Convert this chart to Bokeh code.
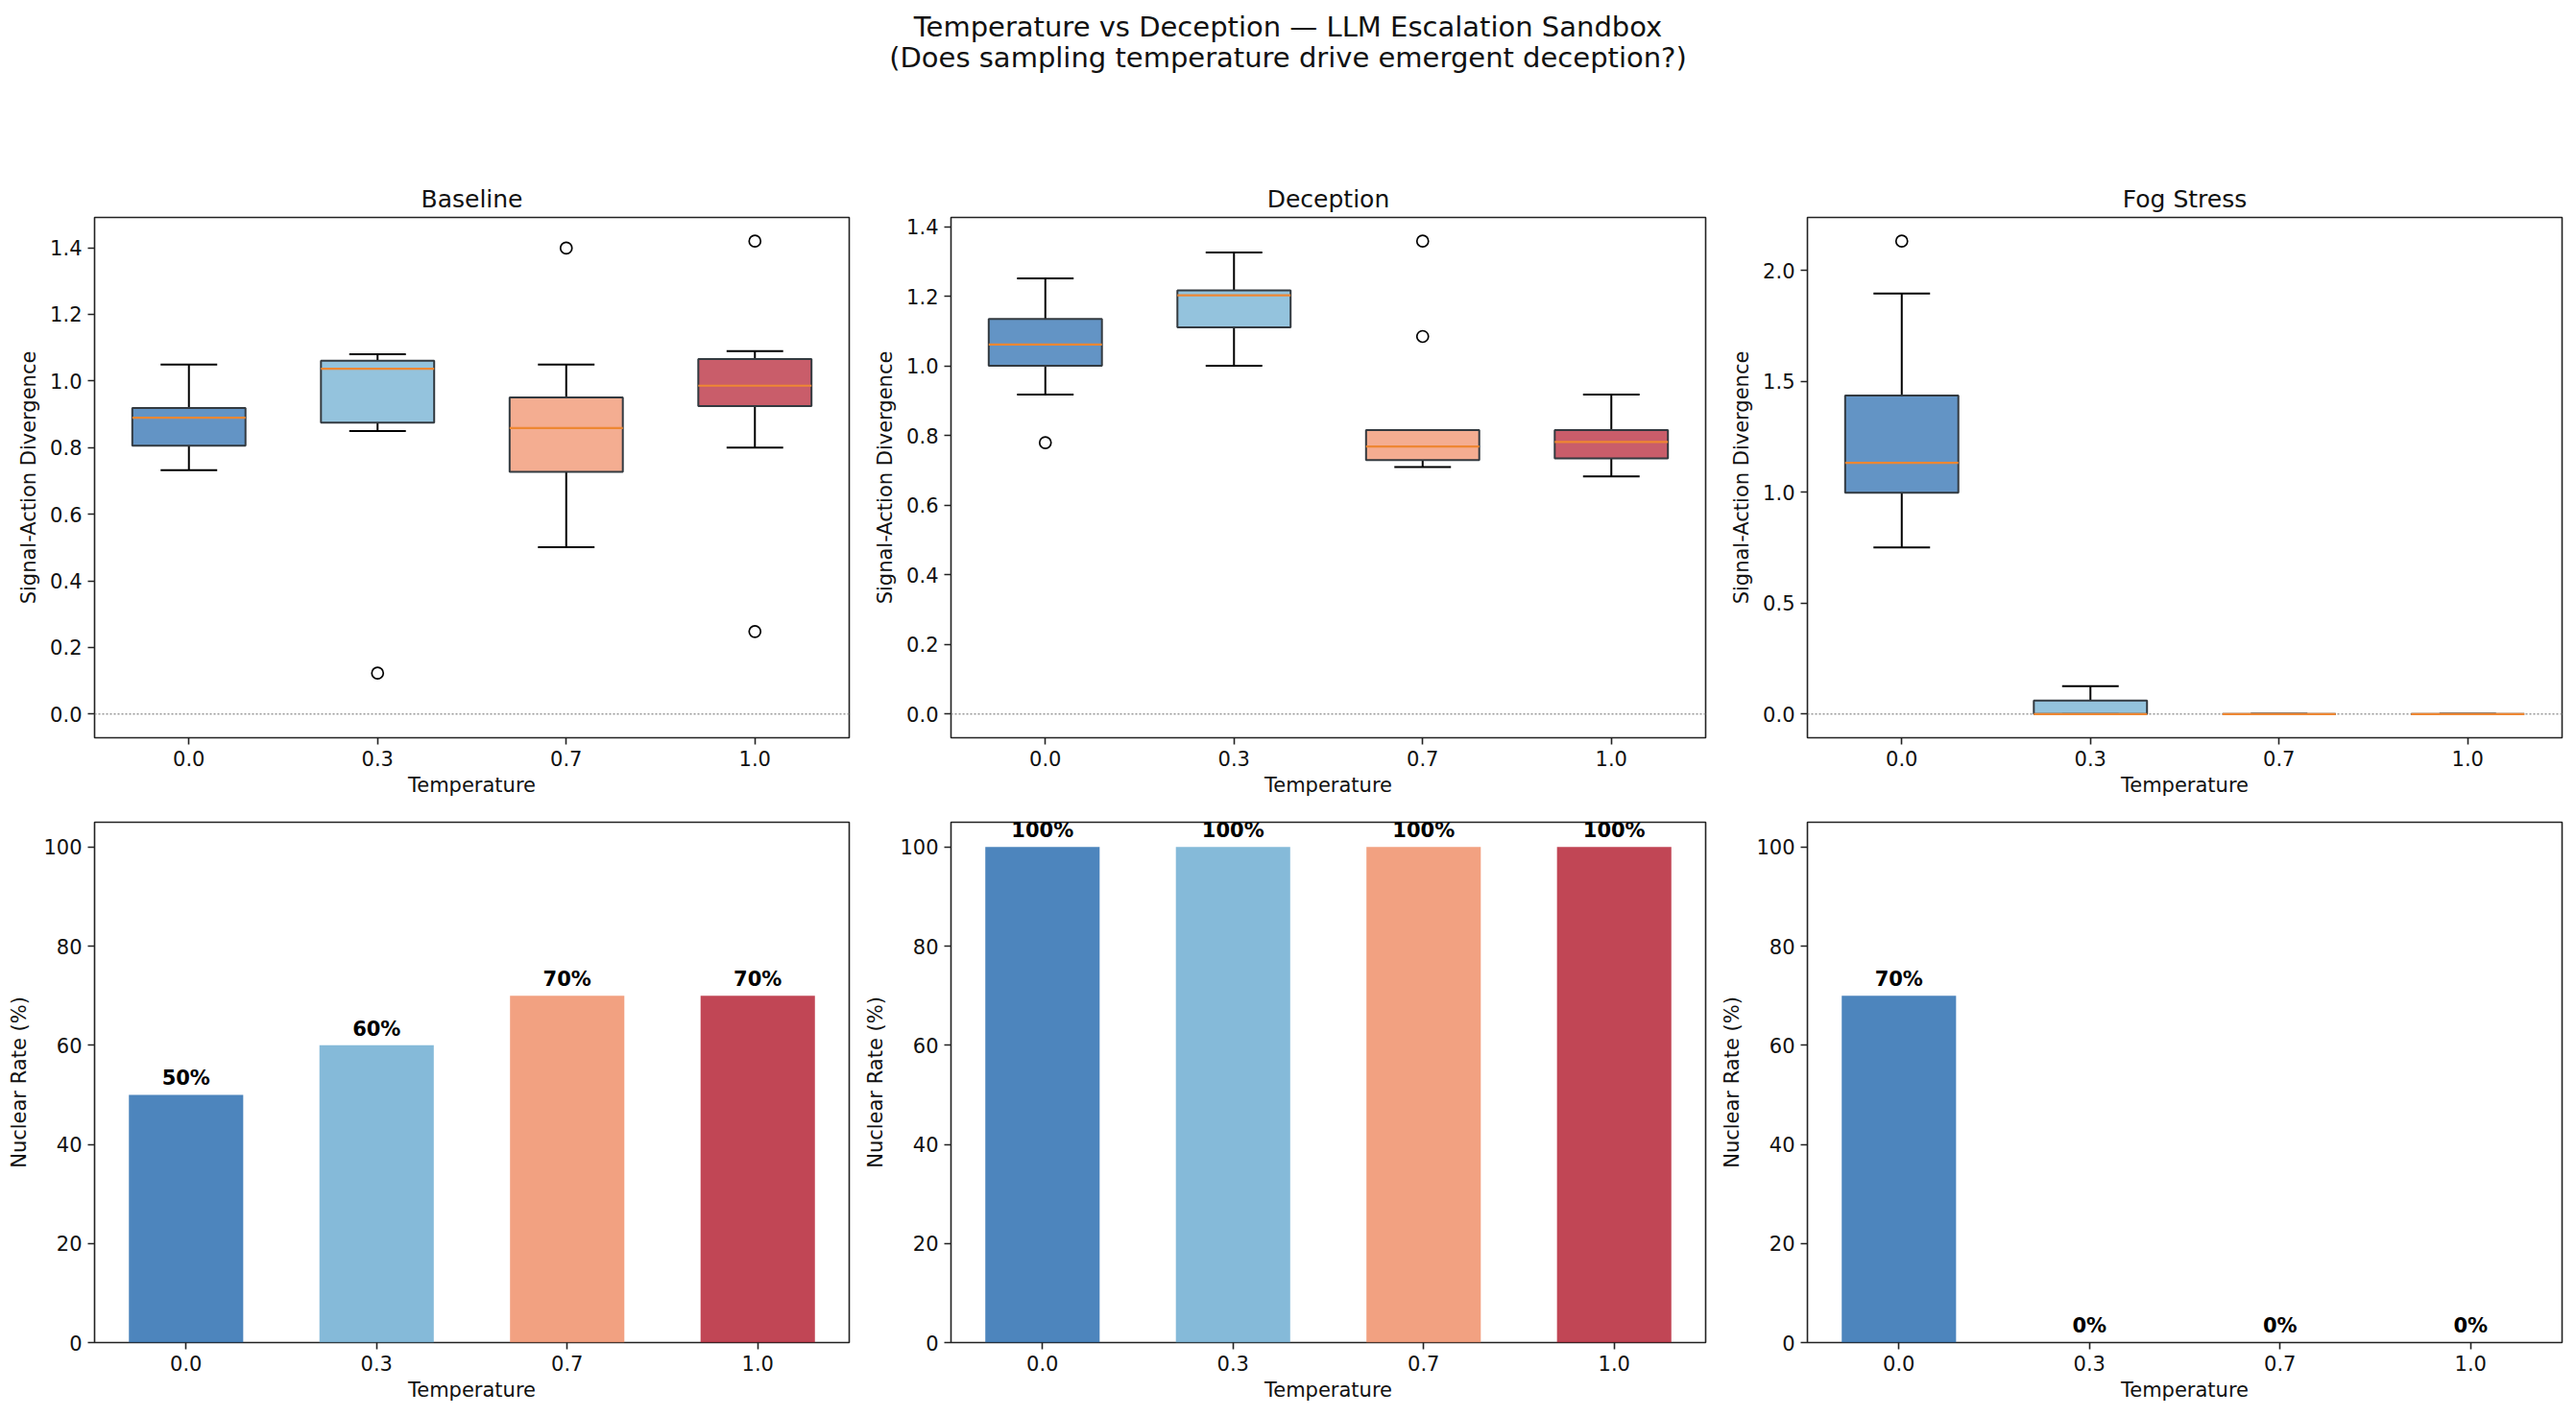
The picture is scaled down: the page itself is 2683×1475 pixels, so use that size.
from bokeh.plotting import figure
from bokeh.models import Span, FixedTicker, PrintfTickFormatter, ColumnDataSource, Range1d
from bokeh.layouts import column, row
from bokeh.embed import file_html
from bokeh.resources import INLINE
from bokeh.core.properties import value

# ---------------- data ----------------
temps = ["0.0", "0.3", "0.7", "1.0"]
colors = ["#2166ac", "#67a9cf", "#ef8a62", "#b2182b"]
scenarios = ["Baseline", "Deception", "Fog Stress"]

# box-plot summaries: q1, median, q3, whisker low, whisker high, outliers
baseline_q1 = [0.806, 0.875, 0.727, 0.925]
baseline_med = [0.890, 1.037, 0.859, 0.986]
baseline_q3 = [0.919, 1.061, 0.951, 1.066]
baseline_lo = [0.732, 0.850, 0.501, 0.800]
baseline_hi = [1.049, 1.080, 1.049, 1.090]
baseline_out = [[], [0.123], [1.399], [1.420, 0.248]]

deception_q1 = [1.001, 1.111, 0.730, 0.735]
deception_med = [1.062, 1.203, 0.769, 0.782]
deception_q3 = [1.135, 1.217, 0.816, 0.816]
deception_lo = [0.918, 1.001, 0.710, 0.683]
deception_hi = [1.252, 1.326, 0.816, 0.918]
deception_out = [[0.780], [], [1.359, 1.085], []]

fog_q1 = [0.998, 0.0, 0.0, 0.0]
fog_med = [1.133, 0.0, 0.0, 0.0]
fog_q3 = [1.437, 0.061, 0.0, 0.0]
fog_lo = [0.752, 0.0, 0.0, 0.0]
fog_hi = [1.897, 0.126, 0.0, 0.0]
fog_out = [[2.133], [], [], []]

# nuclear rates (%)
nuclear_baseline = [50, 60, 70, 70]
nuclear_deception = [100, 100, 100, 100]
nuclear_fog = [70, 0, 0, 0]

div_ticks_baseline = [0.0, 0.2, 0.4, 0.6, 0.8, 1.0, 1.2, 1.4]
div_ticks_deception = [0.0, 0.2, 0.4, 0.6, 0.8, 1.0, 1.2, 1.4]
div_ticks_fog = [0.0, 0.5, 1.0, 1.5, 2.0]
rate_ticks = [0, 20, 40, 60, 80, 100]

suptitle_1 = "Temperature vs Deception \u2014 LLM Escalation Sandbox"
suptitle_2 = "(Does sampling temperature drive emergent deception?)"

# ---------------- style ----------------
FONT = "DejaVu Sans"
MEDIAN = "#ee8733"
FRAME_W = 786
FRAME_H = 542
COLS = [dict(l=98, r=10), dict(l=96, r=10), dict(l=96, r=4)]
TOP_B = 146


def style(p, ylabel, label_standoff):
    p.xgrid.visible = False
    p.ygrid.visible = False
    p.outline_line_color = "#222222"
    p.outline_line_width = 1.6
    for ax in (p.xaxis[0], p.yaxis[0]):
        ax.axis_line_color = None
        ax.major_tick_in = 0
        ax.major_tick_out = 7
        ax.major_tick_line_color = "#222222"
        ax.major_tick_line_width = 1.6
        ax.minor_tick_line_color = None
        ax.major_label_text_font = FONT
        ax.major_label_text_font_size = "21px"
        ax.major_label_text_color = "#111111"
        ax.axis_label_text_font = FONT
        ax.axis_label_text_font_size = "21px"
        ax.axis_label_text_font_style = "normal"
        ax.axis_label_text_color = "#111111"
    p.xaxis.axis_label = "Temperature"
    p.xaxis.major_label_standoff = 6
    p.xaxis.axis_label_standoff = 5
    p.yaxis.axis_label = ylabel
    p.yaxis.major_label_standoff = 6
    p.yaxis.axis_label_standoff = label_standoff
    p.title.text_font = FONT
    p.title.text_font_size = "25px"
    p.title.text_font_style = "normal"
    p.title.align = "center"
    p.title.text_color = "#111111"
    p.title.standoff = 9


def box_panel(name, q1, med, q3, lo, hi, outs, yticks, col):
    pos = [i + 1 for i in range(len(temps))]
    allv = q1 + med + q3 + lo + hi + [v for o in outs for v in o] + [0.0]
    vmin, vmax = min(allv), max(allv)
    span = vmax - vmin
    p = figure(width=COLS[col]["l"] + FRAME_W + COLS[col]["r"], height=TOP_B + FRAME_H + 78,
               x_range=Range1d(0.5, 4.5), y_range=Range1d(vmin - 0.05 * span, vmax + 0.05 * span),
               title=name, toolbar_location=None, output_backend="svg",
               min_border_left=COLS[col]["l"], min_border_right=COLS[col]["r"],
               min_border_top=TOP_B, min_border_bottom=78)
    style(p, "Signal-Action Divergence", 7)
    p.add_layout(Span(location=0, dimension="width", line_color="#999999",
                      line_dash="2 2", line_width=1.5, level="underlay"))
    src = ColumnDataSource(dict(
        x=pos, q1=q1, med=med, q3=q3, lo=lo, hi=hi, color=colors,
        left=[x - 0.3 for x in pos], right=[x + 0.3 for x in pos],
        capl=[x - 0.15 for x in pos], capr=[x + 0.15 for x in pos]))
    p.segment(x0="x", y0="q3", x1="x", y1="hi", source=src, line_color="black", line_width=2)
    p.segment(x0="x", y0="q1", x1="x", y1="lo", source=src, line_color="black", line_width=2)
    p.segment(x0="capl", y0="hi", x1="capr", y1="hi", source=src, line_color="black", line_width=2)
    p.segment(x0="capl", y0="lo", x1="capr", y1="lo", source=src, line_color="black", line_width=2)
    p.quad(left="left", right="right", bottom="q1", top="q3", source=src,
           fill_color="color", fill_alpha=0.7, line_color="#333a40", line_width=2)
    p.segment(x0="left", y0="med", x1="right", y1="med", source=src, line_color=MEDIAN, line_width=2.2)
    ox = [pos[i] for i, o in enumerate(outs) for _ in o]
    oy = [v for o in outs for v in o]
    p.scatter(x=ox, y=oy, marker="circle", size=12, fill_color=None, line_color="black", line_width=1.7)
    p.xaxis.ticker = FixedTicker(ticks=pos)
    p.xaxis.major_label_overrides = {pos[i]: temps[i] for i in range(len(temps))}
    p.yaxis.ticker = FixedTicker(ticks=yticks)
    p.yaxis.formatter = PrintfTickFormatter(format="%.1f")
    return p


def bar_panel(vals, col):
    pos = list(range(len(temps)))
    p = figure(width=COLS[col]["l"] + FRAME_W + COLS[col]["r"], height=10 + FRAME_H + 68,
               x_range=Range1d(-0.48, 3.48), y_range=Range1d(0, 105),
               toolbar_location=None, output_backend="svg",
               min_border_left=COLS[col]["l"], min_border_right=COLS[col]["r"],
               min_border_top=10, min_border_bottom=68)
    style(p, "Nuclear Rate (%)", 10)
    src = ColumnDataSource(dict(x=pos, top=vals, color=colors,
                                ty=[v + 1 for v in vals], label=[f"{v}%" for v in vals]))
    p.vbar(x="x", top="top", width=0.6, source=src, fill_color="color", fill_alpha=0.8, line_color=None)
    p.text(x="x", y="ty", text="label", source=src, text_font=value(FONT), text_font_size="21px",
           text_font_style="bold", text_align="center", text_baseline="bottom", text_color="black")
    p.xaxis.ticker = FixedTicker(ticks=pos)
    p.xaxis.major_label_overrides = {pos[i]: temps[i] for i in range(len(temps))}
    p.yaxis.ticker = FixedTicker(ticks=rate_ticks)
    p.yaxis.formatter = PrintfTickFormatter(format="%d")
    return p


top = [
    box_panel(scenarios[0], baseline_q1, baseline_med, baseline_q3, baseline_lo, baseline_hi, baseline_out, div_ticks_baseline, 0),
    box_panel(scenarios[1], deception_q1, deception_med, deception_q3, deception_lo, deception_hi, deception_out, div_ticks_deception, 1),
    box_panel(scenarios[2], fog_q1, fog_med, fog_q3, fog_lo, fog_hi, fog_out, div_ticks_fog, 2),
]
bottom = [bar_panel(nuclear_baseline, 0), bar_panel(nuclear_deception, 1), bar_panel(nuclear_fog, 2)]

total_w = sum(c["l"] + FRAME_W + c["r"] for c in COLS)
header = figure(width=total_w, height=80, x_range=Range1d(0, total_w), y_range=Range1d(0, 80),
                toolbar_location=None, output_backend="svg", min_border=0)
header.axis.visible = False
header.xgrid.visible = False
header.ygrid.visible = False
header.outline_line_color = None
header.text(x=[1341, 1341], y=[53, 21], text=[suptitle_1, suptitle_2], text_font=value(FONT),
            text_font_size="29px", text_align="center", text_baseline="middle", text_color="#111111")

layout = column(header, row(*top), row(*bottom))
open("out.html", "w").write(file_html(layout, INLINE))
